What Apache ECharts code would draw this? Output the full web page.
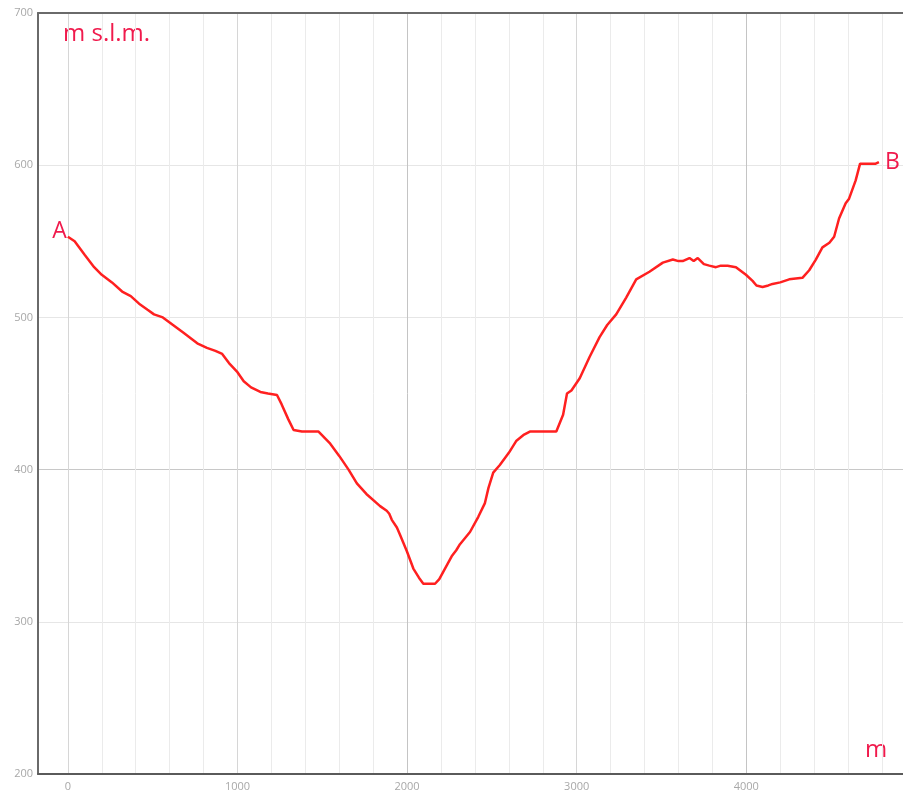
<!DOCTYPE html>
<html>
<head>
<meta charset="utf-8">
<title>Profilo altimetrico</title>
<script src="https://cdn.jsdelivr.net/npm/echarts@6/dist/echarts.min.js"></script>
<style>
  html, body { margin: 0; padding: 0; background: #fff; }
  #main { width: 903px; height: 792px; }
</style>
</head>
<body>
<div id="main"></div>
<script>
// distanza progressiva (m)
var distanze = [
  0, 40, 100, 155, 200, 260, 320, 371, 420, 470, 508, 560, 620, 680, 763, 820, 870, 910,
  950, 1000, 1037, 1080, 1135, 1180, 1233, 1260, 1300, 1331, 1380, 1478, 1547, 1600, 1655,
  1704, 1760, 1841, 1880, 1895, 1910, 1940, 1959, 2000, 2037, 2070, 2096, 2165, 2190, 2214,
  2263, 2290, 2312, 2371, 2420, 2459, 2480, 2508, 2547, 2600, 2645, 2690, 2724, 2880, 2920,
  2943, 2969, 3018, 3076, 3135, 3180, 3233, 3292, 3351, 3429, 3508, 3567, 3600, 3625, 3665,
  3690, 3714, 3750, 3782, 3821, 3850, 3890, 3939, 3998, 4037, 4060, 4096, 4130, 4155, 4200,
  4253, 4331, 4371, 4410, 4449, 4490, 4518, 4547, 4586, 4606, 4645, 4671, 4763, 4782
];
// quota (m s.l.m.)
var quote = [
  553, 550, 541, 533, 528, 523, 517, 514, 509, 505, 502, 500, 495, 490, 483, 480, 478, 476,
  470, 464, 458, 454, 451, 450, 449, 443, 433, 426, 425, 425, 417, 409, 400,
  391, 384, 376, 373, 371, 367, 362, 357, 346, 335, 329, 325, 325, 328, 333,
  343, 347, 351, 359, 369, 378, 388, 398, 403, 411, 419, 423, 425, 425, 436,
  450, 452, 460, 474, 487, 495, 502, 513, 525, 530, 536, 538, 537, 537, 539,
  537, 539, 535, 534, 533, 534, 534, 533, 528, 524, 521, 520, 521, 522, 523,
  525, 526, 531, 538, 546, 549, 553, 565, 575, 578, 590, 601, 601, 602
];
var tickX = [0, 1000, 2000, 3000, 4000];
var gridX = [0, 200, 400, 600, 800, 1000, 1200, 1400, 1600, 1800, 2000, 2200, 2400, 2600,
  2800, 3000, 3200, 3400, 3600, 3800, 4000, 4200, 4400, 4600, 4800];

var rosso = '#ff2020';
var testo = '#f01a4c';

var punti = distanze.map(function (d, i) { return [d, quote[i]]; });
punti[0] = {
  value: punti[0],
  label: { show: true, formatter: 'A', position: 'left', distance: 1, offset: [0, -5],
    color: testo, fontSize: 23, fontFamily: 'Open Sans' }
};

// linee verticali: piu' scure ogni 1000 m, ancora di piu' a 2000 e 4000
var coloriX = gridX.map(function (v) {
  if (v % 2000 === 0 && v > 0) return '#c4c4c4';
  if (v % 1000 === 0) return '#d6d6d6';
  return '#ebebeb';
});

var chart = echarts.init(document.getElementById('main'));
chart.setOption({
  animation: false,
  backgroundColor: '#fff',
  grid: { left: 38, right: -2, top: 13, bottom: 18 },
  xAxis: [{
    type: 'value',
    min: -176,
    max: 4924,
    axisLine: { show: true, onZero: false, lineStyle: { color: '#5a5a5a', width: 2 } },
    axisTick: { show: false, customValues: gridX },
    axisLabel: { customValues: tickX, color: '#a8a8a8', fontSize: 11, margin: 7,
      fontFamily: 'Open Sans', formatter: function (v) { return String(v); } },
    splitLine: { show: true, lineStyle: { color: coloriX, width: 1 } }
  }, {
    type: 'value',
    position: 'top',
    min: -176,
    max: 4924,
    axisLine: { show: true, onZero: false, lineStyle: { color: '#6a6a6a', width: 2 } },
    axisTick: { show: false },
    axisLabel: { show: false },
    splitLine: { show: false }
  }],
  yAxis: {
    type: 'value',
    min: 200,
    max: 700,
    interval: 100,
    axisLine: { show: true, onZero: false, lineStyle: { color: '#6a6a6a', width: 2 } },
    axisTick: { show: false },
    axisLabel: { color: '#a8a8a8', fontSize: 11, margin: 5, fontFamily: 'Open Sans' },
    splitLine: { show: true, lineStyle: {
      color: ['#e6e6e6', '#e6e6e6', '#c8c8c8', '#e6e6e6', '#e6e6e6', '#e6e6e6'], width: 1 } }
  },
  series: [{
    type: 'line',
    data: punti,
    showSymbol: true,
    showAllSymbol: true,
    symbol: 'circle',
    symbolSize: 0,
    smooth: false,
    lineStyle: { color: rosso, width: 2.5 },
    itemStyle: { color: rosso },
    endLabel: { show: true, formatter: 'B', distance: 6, color: testo, fontSize: 23,
      fontFamily: 'Open Sans' }
  }],
  graphic: [{
    type: 'text', left: 63, top: 22,
    style: { text: 'm s.l.m.', fill: testo, fontSize: 24, fontFamily: 'Open Sans' }
  }, {
    type: 'text', left: 865, top: 738,
    style: { text: 'm', fill: testo, fontSize: 24, fontFamily: 'Open Sans' }
  }]
});
</script>
</body>
</html>
